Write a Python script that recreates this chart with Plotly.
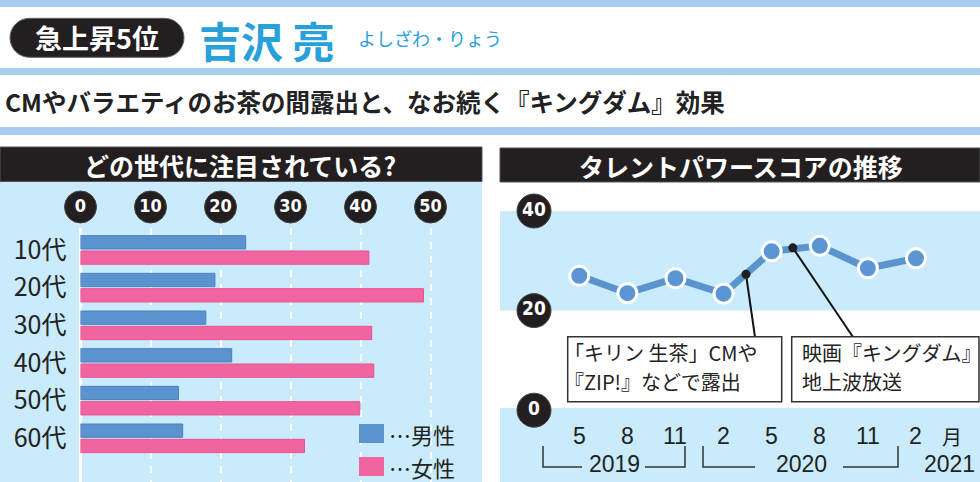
import plotly.graph_objects as go

# ---------------- data ----------------
ages = ["10代", "20代", "30代", "40代", "50代", "60代"]
male = [23.6, 19.2, 17.9, 21.6, 14.0, 14.6]
female = [41.2, 49.0, 41.6, 41.9, 39.9, 32.0]
bar_ticks = [0, 10, 20, 30, 40, 50]

month_labels = ["5", "8", "11", "2", "5", "8", "11", "2"]
score = [27.0, 23.5, 26.5, 23.4, 31.9, 33.0, 28.5, 30.5]
score_ticks = [0, 20, 40]
years = ["2019", "2020", "2021"]

W, H = 980, 482
FONT = "Noto Sans CJK JP"
LAT = "Liberation Sans, Arial, sans-serif"
NARROW = "Liberation Sans Narrow, DejaVu Sans Condensed, Arial Narrow, sans-serif"
LIGHT = "#c9ebfb"
STRIPE = "#a9cdee"
BLACK = "#231f20"
BLUE = "#5b93cf"
PINK = "#f064a0"
TXT = "#222222"


def X(px):
    return px / W


def Y(py):
    return 1 - py / H


fig = go.Figure()
shapes = []
ann = []

# ---------- backgrounds / stripes ----------
for y0, y1 in [(0, 7), (68, 75), (127, 135)]:
    shapes.append(dict(type="rect", xref="paper", yref="paper", x0=0, x1=1,
                       y0=Y(y1), y1=Y(y0), fillcolor=STRIPE, line_width=0, layer="below"))
# left panel
shapes.append(dict(type="rect", xref="paper", yref="paper", x0=0, x1=X(482),
                   y0=0, y1=Y(181.5), fillcolor=LIGHT, line_width=0, layer="below"))
shapes.append(dict(type="rect", xref="paper", yref="paper", x0=0, x1=X(482),
                   y0=Y(181.5), y1=Y(147), fillcolor=BLACK, line=dict(color="#555", width=1), layer="below"))
# right panel
shapes.append(dict(type="rect", xref="paper", yref="paper", x0=X(500), x1=1,
                   y0=Y(182), y1=Y(148), fillcolor=BLACK, line=dict(color="#555", width=1), layer="below"))
shapes.append(dict(type="rect", xref="paper", yref="y2", x0=X(500), x1=1,
                   y0=20, y1=40, fillcolor=LIGHT, line_width=0, layer="below"))
shapes.append(dict(type="rect", xref="paper", yref="paper", x0=X(500), x1=1,
                   y0=0, y1=Y(408), fillcolor=LIGHT, line_width=0, layer="below"))

# ---------- header ----------
l, r, t, b = 10, 184, 18.3, 57.3
rad = (b - t) / 2
k = 0.5523 * rad
path = (f"M {X(l+rad)},{Y(t)} L {X(r-rad)},{Y(t)} "
        f"C {X(r-rad+k)},{Y(t)} {X(r)},{Y(t+rad-k)} {X(r)},{Y(t+rad)} "
        f"C {X(r)},{Y(t+rad+k)} {X(r-rad+k)},{Y(b)} {X(r-rad)},{Y(b)} "
        f"L {X(l+rad)},{Y(b)} "
        f"C {X(l+rad-k)},{Y(b)} {X(l)},{Y(t+rad+k)} {X(l)},{Y(t+rad)} "
        f"C {X(l)},{Y(t+rad-k)} {X(l+rad-k)},{Y(t)} {X(l+rad)},{Y(t)} Z")
shapes.append(dict(type="path", xref="paper", yref="paper", path=path,
                   fillcolor=BLACK, line=dict(color="#666", width=1)))
ann.append(dict(text="<b>急上昇5位</b>", x=X(97), y=Y(38), xref="paper", yref="paper",
                showarrow=False, xanchor="center", yanchor="middle",
                font=dict(family=FONT, size=27, color="white")))
ann.append(dict(text="<b>吉沢 亮</b>", x=X(197), y=Y(39), xref="paper", yref="paper",
                showarrow=False, xanchor="left", yanchor="middle",
                font=dict(family=FONT, size=42, color="#28a0da")))
ann.append(dict(text="よしざわ・りょう", x=X(356), y=Y(38), xref="paper", yref="paper",
                showarrow=False, xanchor="left", yanchor="middle",
                font=dict(family=FONT, size=18, color="#28a0da")))
ann.append(dict(text="<b>CMやバラエティのお茶の間露出と、なお続く『キングダム』効果</b>",
                x=X(3), y=Y(101), xref="paper", yref="paper",
                showarrow=False, xanchor="left", yanchor="middle",
                font=dict(family=FONT, size=24.5, color=TXT)))
ann.append(dict(text="<b>どの世代に注目されている?</b>", x=X(240), y=Y(165), xref="paper", yref="paper",
                showarrow=False, xanchor="center", yanchor="middle",
                font=dict(family=FONT, size=25, color="white")))
ann.append(dict(text="<b>タレントパワースコアの推移</b>", x=X(741), y=Y(166), xref="paper", yref="paper",
                showarrow=False, xanchor="center", yanchor="middle",
                font=dict(family=FONT, size=25, color="white")))

# ---------- bar chart ----------
fig.add_trace(go.Bar(y=ages, x=male, orientation="h", name="男性",
                     marker=dict(color=BLUE, line=dict(color="#4a80c0", width=1)),
                     xaxis="x", yaxis="y"))
fig.add_trace(go.Bar(y=ages, x=female, orientation="h", name="女性",
                     marker=dict(color=PINK, line=dict(color="#e9558f", width=1)),
                     xaxis="x", yaxis="y"))

# circular tick labels on top of the bar chart (own y-axis row)
fig.add_trace(go.Scatter(x=bar_ticks, y=[0.5] * len(bar_ticks), xaxis="x", yaxis="y3",
                         mode="markers+text", text=[str(v) for v in bar_ticks],
                         textposition="middle center",
                         textfont=dict(family=NARROW, size=18, color="white", weight="bold"),
                         marker=dict(size=32, color=BLACK, line=dict(color="#444", width=1)),
                         cliponaxis=False, hoverinfo="skip"))

# legend
for (y0, y1, col, lab) in [(424, 443, BLUE, "…男性"), (457, 476, PINK, "…女性")]:
    shapes.append(dict(type="rect", xref="paper", yref="paper", x0=X(359), x1=X(384),
                       y0=Y(y1), y1=Y(y0), fillcolor=col, line_width=0))
    ann.append(dict(text=lab, x=X(387), y=Y((y0 + y1) / 2), xref="paper", yref="paper",
                    showarrow=False, xanchor="left", yanchor="middle",
                    font=dict(family=FONT, size=22, color=TXT)))

# ---------- line chart ----------
xi = list(range(len(score)))
fig.add_trace(go.Scatter(x=xi, y=score, mode="lines+markers", xaxis="x2", yaxis="y2",
                         line=dict(color=BLUE, width=7),
                         marker=dict(size=19, color="#5a96d4", line=dict(color="white", width=3)),
                         cliponaxis=False, hoverinfo="skip"))

# circular y tick labels (own x-axis column)
fig.add_trace(go.Scatter(x=[0.5] * len(score_ticks), y=score_ticks, xaxis="x3", yaxis="y2",
                         mode="markers+text", text=[str(v) for v in score_ticks],
                         textposition="middle center",
                         textfont=dict(family=NARROW, size=19, color="white", weight="bold"),
                         marker=dict(size=34, color=BLACK, line=dict(color="#444", width=1)),
                         cliponaxis=False, hoverinfo="skip"))

for i, m in enumerate(month_labels):
    ann.append(dict(text=m, x=i, y=Y(436), xref="x2", yref="paper", showarrow=False,
                    xanchor="center", yanchor="middle",
                    font=dict(family=LAT, size=23, color=TXT)))
ann.append(dict(text="月", x=X(952), y=Y(436), xref="paper", yref="paper", showarrow=False,
                xanchor="center", yanchor="middle", font=dict(family=FONT, size=20, color=TXT)))

for lab, cx in zip(years, [614, 801, 949]):
    ann.append(dict(text=lab, x=X(cx), y=Y(464), xref="paper", yref="paper", showarrow=False,
                    xanchor="center", yanchor="middle",
                    font=dict(family=LAT, size=23, color=TXT)))

BR = dict(color="#333", width=1.5)
for (a, b2, c, d) in [(543, 582, 645, 685), (703, 755, 843, 898)]:
    shapes.append(dict(type="path", xref="paper", yref="paper",
                       path=f"M {X(a)},{Y(446)} L {X(a)},{Y(467)} L {X(b2)},{Y(467)}", line=BR))
    shapes.append(dict(type="path", xref="paper", yref="paper",
                       path=f"M {X(c)},{Y(467)} L {X(d)},{Y(467)} L {X(d)},{Y(446)}", line=BR))

# callouts
box_top_val = 14.71
for (dx, dy, lx) in [(3.466, 27.3, 3.653), (4.44, 32.6, 5.69)]:
    shapes.append(dict(type="line", xref="x2", yref="y2", x0=dx, y0=dy, x1=lx, y1=box_top_val,
                       line=dict(color="#111", width=2)))
    shapes.append(dict(type="circle", xref="x2", yref="y2", xsizemode="pixel", ysizemode="pixel",
                       xanchor=dx, yanchor=dy, x0=-4.5, x1=4.5, y0=-4.5, y1=4.5,
                       fillcolor="#231f20", line_width=0))

for (x0, x1, lines, tx) in [(567.7, 781.7, ["「キリン 生茶」CMや", "『ZIP!』などで露出"], 562),
                            (791.7, 979, ["映画『キングダム』", "地上波放送"], 800)]:
    shapes.append(dict(type="rect", xref="paper", yref="paper", x0=X(x0), x1=X(x1),
                       y0=Y(401.7), y1=Y(336.7), fillcolor="white", line=dict(color="#333", width=1.5)))
    for j, s in enumerate(lines):
        ann.append(dict(text=s, x=X(tx), y=Y(352 + 29 * j), xref="paper", yref="paper",
                        showarrow=False, xanchor="left", yanchor="middle",
                        font=dict(family=FONT, size=20, color=TXT)))

fig.update_layout(
    width=W, height=H, margin=dict(l=0, r=0, t=0, b=0),
    paper_bgcolor="white", plot_bgcolor="rgba(0,0,0,0)",
    showlegend=False, barmode="group", bargap=0.187, bargroupgap=0.13,
    shapes=shapes, annotations=ann, hovermode=False,
    xaxis=dict(domain=[X(80.5), X(482)], range=[0, (482 - 80.5) / 7], dtick=10, tick0=0,
               showgrid=True, gridcolor="white", gridwidth=2, griddash="7px,7px",
               zeroline=True, zerolinecolor="white", zerolinewidth=2.5,
               showticklabels=False, showline=False, fixedrange=True, anchor="y"),
    yaxis=dict(domain=[0, Y(228)], type="category", range=[6.16, -0.584],
               showgrid=False, zeroline=False, showline=False,
               ticks="outside", ticklen=8, tickcolor="rgba(0,0,0,0)", automargin=False,
               tickfont=dict(family=FONT, size=25, color=TXT), anchor="x"),
    yaxis3=dict(domain=[Y(222), Y(192)], range=[0, 1], visible=False, anchor="x"),
    xaxis2=dict(domain=[X(500), 1], range=[-1.648, 8.331], showgrid=False, zeroline=False,
                showticklabels=False, showline=False, anchor="y2"),
    yaxis2=dict(domain=[Y(410.2), Y(211)], range=[0, 40], showgrid=False, zeroline=False,
                showticklabels=False, showline=False, anchor="x2"),
    xaxis3=dict(domain=[X(519), X(549)], range=[0, 1], visible=False, anchor="y2"),
)

fig.write_html("out.html", config={"displayModeBar": False, "staticPlot": True},
               post_script="document.body.style.margin='0';document.body.style.overflow='hidden';")
